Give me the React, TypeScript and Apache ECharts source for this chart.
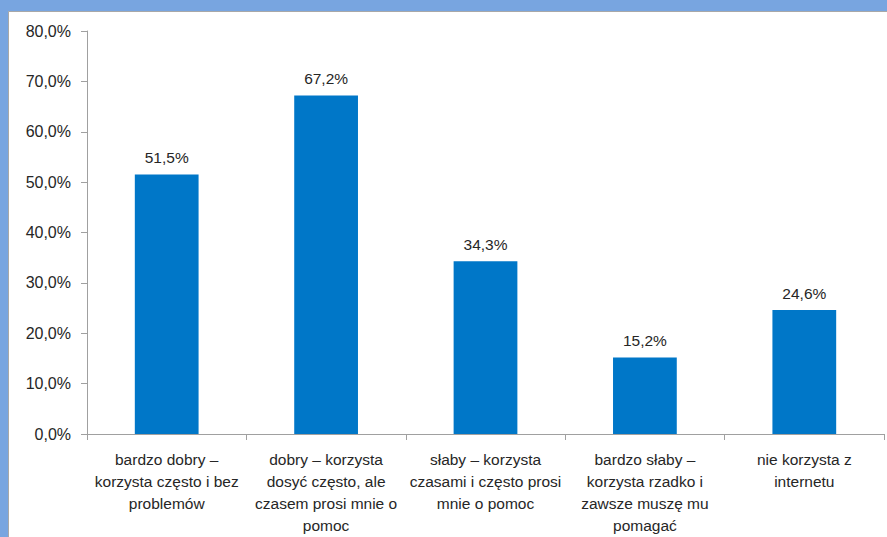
import React, { useEffect, useRef } from "react";
import * as echarts from "echarts";

const categories: string[] = [
  "bardzo dobry –\nkorzysta często i bez\nproblemów",
  "dobry – korzysta\ndosyć często, ale\nczasem prosi mnie o\npomoc",
  "słaby – korzysta\nczasami i często prosi\nmnie o pomoc",
  "bardzo słaby –\nkorzysta rzadko i\nzawsze muszę mu\npomagać",
  "nie korzysta z\ninternetu",
];
const values: number[] = [51.5, 67.2, 34.3, 15.2, 24.6];
const yTicks: number[] = [0, 10, 20, 30, 40, 50, 60, 70, 80];

const fmt = (v: number) => v.toFixed(1).replace(".", ",") + "%";

export default function App() {
  const ref = useRef<HTMLDivElement>(null);
  useEffect(() => {
    if (!ref.current) return;
    const chart = echarts.init(ref.current, undefined, { renderer: "svg" });
    const font = "'Liberation Sans', Arial, sans-serif";
    chart.setOption({
      animation: false,
      backgroundColor: "#78a5e0",
      graphic: [
        {
          type: "rect",
          shape: { x: 8.5, y: 11.5, width: 900, height: 600 },
          style: { fill: "#ffffff", stroke: "#a8a8a8", lineWidth: 1 },
          z: -10,
        },
      ],
      grid: { left: 87, top: 31, right: 3, bottom: 103, containLabel: false },
      xAxis: {
        type: "category",
        data: categories,
        axisLine: { show: true, lineStyle: { color: "#a0a0a0", width: 1 } },
        axisTick: { show: true, alignWithLabel: false, length: 6, lineStyle: { color: "#a0a0a0" } },
        axisLabel: {
          interval: 0,
          color: "#262626",
          fontFamily: font,
          fontSize: 15.5,
          lineHeight: 22,
          margin: 14,
        },
        splitLine: { show: false },
      },
      yAxis: {
        type: "value",
        min: 0,
        max: 80,
        interval: 10,
        axisLine: { show: true, lineStyle: { color: "#a0a0a0", width: 1 } },
        axisTick: { show: true, length: 6, lineStyle: { color: "#a0a0a0" } },
        axisLabel: {
          color: "#262626",
          fontFamily: font,
          fontSize: 16,
          margin: 16,
          formatter: (v: number) => (yTicks.includes(v) ? fmt(v) : ""),
        },
        splitLine: { show: false },
      },
      series: [
        {
          type: "bar",
          data: values,
          barWidth: "40%",
          itemStyle: { color: "#0077c8" },
          label: {
            show: true,
            position: "top",
            distance: 9,
            color: "#262626",
            fontFamily: font,
            fontSize: 15.5,
            formatter: (p: any) => fmt(p.value),
          },
        },
      ],
    });
    return () => chart.dispose();
  }, []);
  return (
    <div
      ref={ref}
      style={{ position: "fixed", left: 0, top: 0, width: 887, height: 537 }}
    />
  );
}
